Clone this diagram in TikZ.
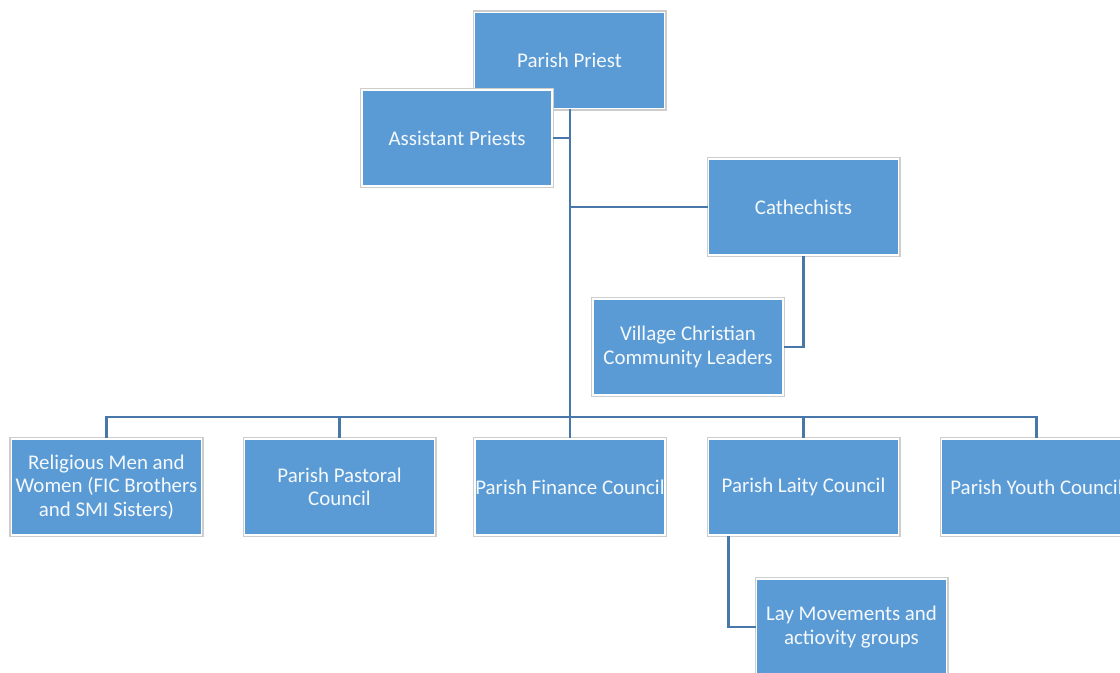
\documentclass[tikz,border=0pt]{standalone}
\usepackage{fontspec}
\setmainfont{Carlito}
\usepackage{tikz}
\definecolor{hopxanh}{RGB}{91,155,213}
\definecolor{duongnoi}{RGB}{72,119,170}
\definecolor{vienxam}{RGB}{205,205,205}
\tikzset{
  hop/.style={rectangle, fill=hopxanh, draw=white, line width=1.1pt,
    preaction={draw=vienxam, line width=2.3pt},
    minimum width=3.8cm, minimum height=1.92cm, inner xsep=0pt,
    align=center, text=white!94!hopxanh,
    font=\fontsize{11.9}{13.2}\selectfont},
  noi/.style={draw=duongnoi, line width=1.7pt}
}
\begin{document}
\begin{tikzpicture}[x=0.02cm,y=-0.02cm]
\useasboundingbox (0,0) rectangle (1120,673);
\clip (0,0) rectangle (1120,673);
			\coordinate (bus) at (570,417);
				% top part
				\node [hop] (linhmuc) at (569.5,60.5) {Parish Priest};
				\draw [noi] (linhmuc.south -| bus)-- (bus);
				\node [hop] (phoxu) at (457,138) {Assistant Priests};
				\node [hop] (giaoly) at (803.5,207) {Cathechists};
				\node [hop] (truongxom) at (688,347) {Village Christian\\Community Leaders};
				\draw [noi] (phoxu.east)-- (phoxu.east -| bus);
				\draw [noi] (giaoly.west)-- (giaoly.west -| bus);
				\draw [noi] (giaoly.south) |- (truongxom.east);
				% bottom row
				\node [hop] (tusi) at (106.5,487) {Religious Men and\\Women (FIC Brothers\\and SMI Sisters)};
				\node [hop] (mucvu) at (339.5,487) {Parish Pastoral\\Council};
				\node [hop] (taichinh) at (570,487) {Parish Finance Council};
				\node [hop] (giaodan) at (803.5,487) {Parish Laity Council};
				\node [hop] (thanhnien) at (1036.5,487) {Parish Youth Council};
				\foreach \n in {tusi,mucvu,taichinh,giaodan,thanhnien}
				\draw [noi] (bus) -| (\n.north);
				\node [hop] (phongtrao) at (851.5,627) {Lay Movements and\\actiovity groups};
				\draw [noi] ([xshift=0.42cm]giaodan.south west) |- (phongtrao.west);
		\end{tikzpicture}
\end{document}
